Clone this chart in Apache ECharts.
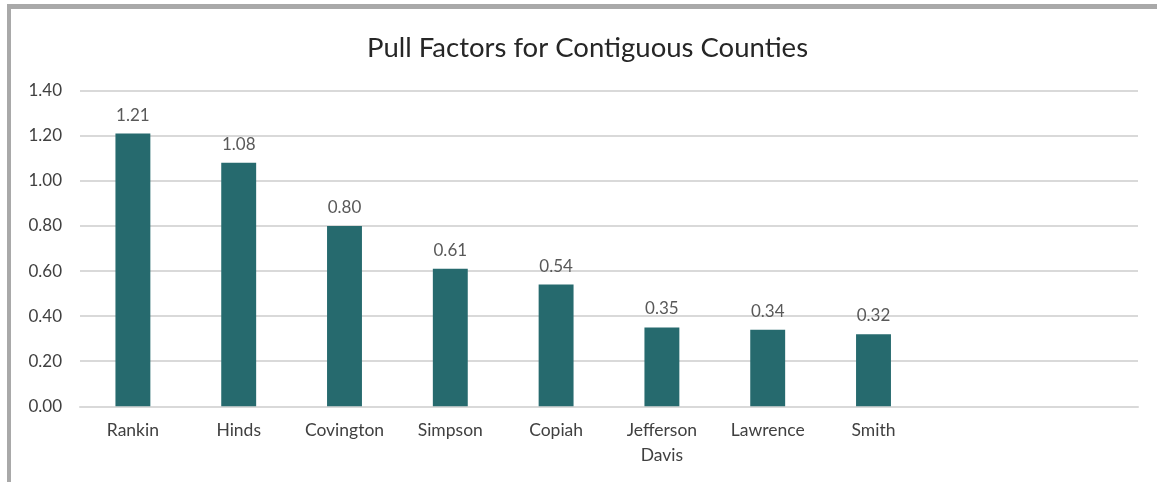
<!DOCTYPE html>
<html>
<head>
<meta charset="utf-8">
<script src="https://cdn.jsdelivr.net/npm/echarts@6/dist/echarts.min.js"></script>
<style>
  html, body { margin: 0; padding: 0; background: #fff; }
  #wrap { position: relative; width: 1157px; height: 482px; overflow: hidden; }
  #frame { position: absolute; left: 7px; top: 4px; width: 1160px; height: 473px;
           border-left: 4px solid #a9a9a9; border-top: 5px solid #a9a9a9; border-bottom: 2px solid #a9a9a9; }
  #chart { position: absolute; left: 0; top: 0; width: 1157px; height: 482px; }
</style>
</head>
<body>
<div id="wrap">
  <div id="frame"></div>
  <div id="chart"></div>
</div>
<script>
const chartTitle = "Pull Factors for Contiguous Counties";
const categories = ["Rankin", "Hinds", "Covington", "Simpson", "Copiah", "Jefferson\nDavis", "Lawrence", "Smith", "", ""];
const pullFactors = [1.21, 1.08, 0.80, 0.61, 0.54, 0.35, 0.34, 0.32, null, null];
const yTicks = { min: 0, max: 1.4, interval: 0.2 };

const chart = echarts.init(document.getElementById('chart'), null, { renderer: 'canvas' });
const font = 'Lato, "Open Sans", "DejaVu Sans", sans-serif';
chart.setOption({
  backgroundColor: 'transparent',
  animation: false,
  title: {
    text: chartTitle,
    left: 362,
    top: 29,
    textStyle: { fontFamily: font, fontSize: 27.5, fontWeight: 'normal', color: '#262626' }
  },
  grid: { left: 80, right: 19, top: 90.7, bottom: 75.7, containLabel: false },
  xAxis: {
    type: 'category',
    data: categories,
    axisLine: { show: true, lineStyle: { color: '#d9d9d9', width: 2 } },
    axisTick: { show: false },
    axisLabel: { fontFamily: font, fontSize: 17.5, color: '#404040', margin: 12, lineHeight: 25, interval: 0 }
  },
  yAxis: {
    type: 'value',
    min: yTicks.min, max: yTicks.max, interval: yTicks.interval,
    axisLine: { show: false },
    axisTick: { show: false },
    splitLine: { lineStyle: { color: '#d9d9d9', width: 2 } },
    axisLabel: { fontFamily: font, fontSize: 17, color: '#404040', margin: 18, formatter: v => v.toFixed(2) }
  },
  series: [{
    type: 'bar',
    data: pullFactors,
    barWidth: '33%',
    itemStyle: { color: '#266a6e' },
    label: {
      show: true, position: 'top', distance: 10,
      fontFamily: font, fontSize: 17, color: '#595959',
      formatter: p => p.value == null ? '' : Number(p.value).toFixed(2)
    }
  }]
});
</script>
</body>
</html>
